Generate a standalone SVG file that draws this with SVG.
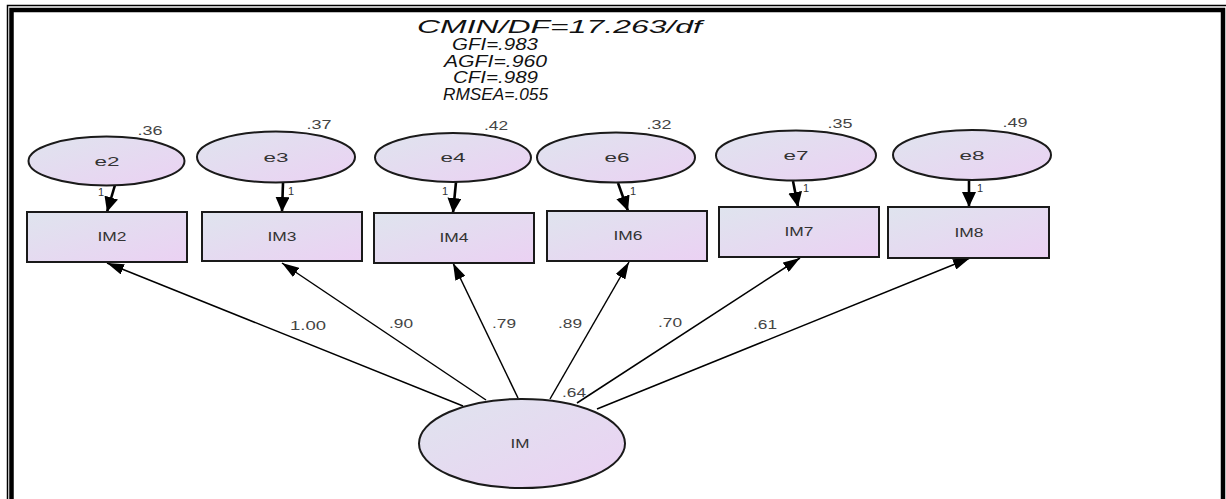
<svg xmlns="http://www.w3.org/2000/svg" width="1226" height="499" viewBox="0 0 1226 499">
<style>
.shape{fill:url(#g);stroke:#1a1a1a;stroke-width:2}
.lbl{font-family:"Liberation Sans",Arial,sans-serif;fill:#333;text-anchor:middle}
.node{font-size:13px}
.num{font-size:12px;fill:#444}
.one{font-size:11px;fill:#333}
.stat{font-family:"Liberation Sans",Arial,sans-serif;font-style:italic;font-size:16px;fill:#111}
.big{font-size:18px}
.thick{stroke:#000;stroke-width:2.6;fill:none;marker-end:url(#ah1)}
.thin{stroke:#000;stroke-width:1.5;fill:none;marker-end:url(#ah2)}
</style>
<defs>
<linearGradient id="g" x1="0" y1="0" x2="1" y2="1">
<stop offset="0" stop-color="#dfe4ee"/>
<stop offset="1" stop-color="#ebd1f3"/>
</linearGradient>
<marker id="ah1" markerUnits="userSpaceOnUse" markerWidth="15" markerHeight="14" refX="15" refY="7" orient="auto">
<path d="M0,0 L15,7 L0,14 z" fill="#000"/>
</marker>
<marker id="ah2" markerUnits="userSpaceOnUse" markerWidth="17" markerHeight="11" refX="17" refY="5.5" orient="auto">
<path d="M0,0 L17,5.5 L0,11 z" fill="#000"/>
</marker>
</defs>
<rect width="1226" height="499" fill="#fff"/>
<rect x="7.5" y="5.5" width="1240" height="520" fill="none" stroke="#000" stroke-width="1.5"/>
<rect x="11.5" y="10" width="1211.5" height="520" fill="none" stroke="#000" stroke-width="4.5"/>

<g id="stats">
<text class="stat big" x="417" y="33" textLength="285" lengthAdjust="spacingAndGlyphs">CMIN/DF=17.263/df</text>
<text class="stat" x="452" y="50" textLength="86" lengthAdjust="spacingAndGlyphs">GFI=.983</text>
<text class="stat" x="444" y="67" textLength="103" lengthAdjust="spacingAndGlyphs">AGFI=.960</text>
<text class="stat" x="453" y="83" textLength="85" lengthAdjust="spacingAndGlyphs">CFI=.989</text>
<text class="stat" x="443" y="100" textLength="105" lengthAdjust="spacingAndGlyphs">RMSEA=.055</text>
</g>

<g id="connectors">
<line class="thick" x1="115" y1="185" x2="107" y2="212"/>
<line class="thick" x1="283" y1="183" x2="282" y2="212"/>
<line class="thick" x1="456" y1="182" x2="453" y2="213"/>
<line class="thick" x1="618" y1="183" x2="628" y2="211"/>
<line class="thick" x1="793" y1="181" x2="798" y2="207"/>
<line class="thick" x1="969" y1="180" x2="969" y2="207"/>
<line class="thin" x1="463" y1="406" x2="107" y2="263"/>
<line class="thin" x1="486" y1="400" x2="282" y2="263"/>
<line class="thin" x1="518" y1="398" x2="453" y2="263"/>
<line class="thin" x1="550" y1="399" x2="629" y2="262"/>
<line class="thin" x1="577" y1="403" x2="800" y2="258"/>
<line class="thin" x1="597" y1="409" x2="970" y2="258"/>
<text class="lbl one" x="101" y="196">1</text>
<text class="lbl one" x="291" y="195">1</text>
<text class="lbl one" x="445" y="195">1</text>
<text class="lbl one" x="633" y="195">1</text>
<text class="lbl one" x="806" y="192">1</text>
<text class="lbl one" x="980" y="192">1</text>
<text class="lbl num" x="308" y="330" textLength="36" lengthAdjust="spacingAndGlyphs">1.00</text>
<text class="lbl num" x="401" y="328" textLength="24" lengthAdjust="spacingAndGlyphs">.90</text>
<text class="lbl num" x="504" y="328" textLength="24" lengthAdjust="spacingAndGlyphs">.79</text>
<text class="lbl num" x="570" y="328" textLength="24" lengthAdjust="spacingAndGlyphs">.89</text>
<text class="lbl num" x="670" y="327" textLength="24" lengthAdjust="spacingAndGlyphs">.70</text>
<text class="lbl num" x="765" y="329" textLength="24" lengthAdjust="spacingAndGlyphs">.61</text>
</g>

<g id="e2"><ellipse class="shape" cx="106.5" cy="161" rx="78" ry="24.5"/><text class="lbl node" x="107" y="166" textLength="25" lengthAdjust="spacingAndGlyphs">e2</text><text class="lbl num" x="150" y="135" textLength="25" lengthAdjust="spacingAndGlyphs">.36</text></g>
<g id="e3"><ellipse class="shape" cx="276" cy="157" rx="79" ry="25.5"/><text class="lbl node" x="276" y="162" textLength="25" lengthAdjust="spacingAndGlyphs">e3</text><text class="lbl num" x="319" y="129" textLength="25" lengthAdjust="spacingAndGlyphs">.37</text></g>
<g id="e4"><ellipse class="shape" cx="453" cy="157.5" rx="78" ry="24.5"/><text class="lbl node" x="453" y="162" textLength="25" lengthAdjust="spacingAndGlyphs">e4</text><text class="lbl num" x="496" y="130" textLength="24" lengthAdjust="spacingAndGlyphs">.42</text></g>
<g id="e6"><ellipse class="shape" cx="616" cy="157.5" rx="79" ry="25"/><text class="lbl node" x="617" y="162" textLength="25" lengthAdjust="spacingAndGlyphs">e6</text><text class="lbl num" x="659" y="129" textLength="25" lengthAdjust="spacingAndGlyphs">.32</text></g>
<g id="e7"><ellipse class="shape" cx="796" cy="155.5" rx="80" ry="25"/><text class="lbl node" x="796" y="160" textLength="25" lengthAdjust="spacingAndGlyphs">e7</text><text class="lbl num" x="840" y="128" textLength="25" lengthAdjust="spacingAndGlyphs">.35</text></g>
<g id="e8"><ellipse class="shape" cx="972" cy="155" rx="79" ry="25"/><text class="lbl node" x="972" y="160" textLength="25" lengthAdjust="spacingAndGlyphs">e8</text><text class="lbl num" x="1015" y="127" textLength="25" lengthAdjust="spacingAndGlyphs">.49</text></g>

<g id="IM2"><rect class="shape" x="27" y="212" width="160" height="50"/><text class="lbl node" x="112" y="241" textLength="29" lengthAdjust="spacingAndGlyphs">IM2</text></g>
<g id="IM3"><rect class="shape" x="202" y="212" width="160" height="49"/><text class="lbl node" x="282" y="241" textLength="29" lengthAdjust="spacingAndGlyphs">IM3</text></g>
<g id="IM4"><rect class="shape" x="374" y="213" width="160" height="50"/><text class="lbl node" x="454" y="242" textLength="29" lengthAdjust="spacingAndGlyphs">IM4</text></g>
<g id="IM6"><rect class="shape" x="547" y="211" width="160" height="50"/><text class="lbl node" x="628" y="240" textLength="29" lengthAdjust="spacingAndGlyphs">IM6</text></g>
<g id="IM7"><rect class="shape" x="719" y="207" width="160" height="50"/><text class="lbl node" x="799" y="236" textLength="29" lengthAdjust="spacingAndGlyphs">IM7</text></g>
<g id="IM8"><rect class="shape" x="888" y="207" width="161" height="51"/><text class="lbl node" x="969" y="237" textLength="29" lengthAdjust="spacingAndGlyphs">IM8</text></g>

<g id="IM"><ellipse class="shape" cx="522" cy="443.5" rx="103" ry="44.5"/><text class="lbl node" x="520" y="448" textLength="19" lengthAdjust="spacingAndGlyphs">IM</text><text class="lbl num" x="574" y="397" textLength="24" lengthAdjust="spacingAndGlyphs">.64</text></g>
</svg>
